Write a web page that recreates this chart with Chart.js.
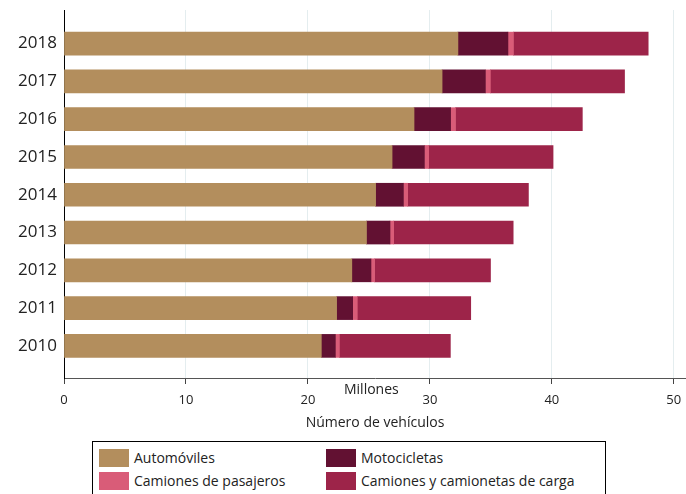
<!DOCTYPE html>
<html lang="es">
<head>
    <meta charset="UTF-8">
    <title>Número de vehículos</title>
    <script src="https://cdn.jsdelivr.net/npm/chart.js"></script>
    <style>
        body {
            margin: 0;
            font-family: "Open Sans", sans-serif;
            background: #fff;
        }
        .wrap {
            position: relative;
            width: 686px;
            height: 494px;
            overflow: hidden;
        }
        #legend {
            position: absolute;
            left: 92px;
            top: 441px;
            width: 514px;
            height: 60px;
            border: 1px solid #000;
            display: grid;
            grid-template-columns: 227px 1fr;
            grid-auto-rows: 18px;
            row-gap: 5px;
            padding: 7px 0 0 6px;
            box-sizing: border-box;
            font-size: 14px;
            color: #222;
        }
        .item {
            display: flex;
            align-items: center;
            height: 18px;
            line-height: 18px;
        }
        .sw {
            width: 30px;
            height: 18px;
            margin-right: 5px;
        }
    </style>
</head>
<body>
    <div class="wrap">
        <canvas id="chart" width="686" height="440"></canvas>
        <div id="legend"></div>
    </div>

    <script>
        const years = [2010, 2011, 2012, 2013, 2014, 2015, 2016, 2017, 2018];
        const automoviles = [21.1, 22.35, 23.6, 24.8, 25.55, 26.9, 28.7, 31.0, 32.3];
        const motocicletas = [1.15, 1.32, 1.57, 1.93, 2.28, 2.65, 3.0, 3.55, 4.1];
        const pasajeros = [0.33, 0.38, 0.3, 0.3, 0.35, 0.35, 0.4, 0.41, 0.45];
        const carga = [9.1, 9.3, 9.5, 9.8, 9.9, 10.2, 10.4, 11.0, 11.05];
        const xTicks = [0, 10, 20, 30, 40, 50];

        const textColor = "#222";

        const millonesLabel = {
            id: "millones",
            afterDraw(chart) {
                const ctx = chart.ctx;
                const x = chart.scales.x;
                ctx.save();
                ctx.font = "14px 'Open Sans'";
                ctx.fillStyle = textColor;
                ctx.textAlign = "center";
                ctx.textBaseline = "middle";
                ctx.fillText("Millones", x.getPixelForValue(25.2), x.top + 12.5);
                ctx.restore();
            }
        };

        const ctx = document.getElementById("chart").getContext("2d");
        const chart = new Chart(ctx, {
            type: "bar",
            data: {
                labels: years,
                datasets: [
                    { label: "Automóviles", data: automoviles, backgroundColor: "#B38E5D" },
                    { label: "Motocicletas", data: motocicletas, backgroundColor: "#621132" },
                    { label: "Camiones de pasajeros", data: pasajeros, backgroundColor: "#D95C78" },
                    { label: "Camiones y camionetas de carga", data: carga, backgroundColor: "#9D2449" }
                ]
            },
            options: {
                indexAxis: "y",
                responsive: false,
                animation: false,
                barThickness: 23,
                layout: { padding: { top: 10, left: 0, right: 0, bottom: 0 } },
                plugins: {
                    legend: { display: false },
                    tooltip: { enabled: false }
                },
                scales: {
                    x: {
                        stacked: true,
                        min: 0,
                        max: 51,
                        afterBuildTicks: s => { s.ticks = xTicks.map(v => ({ value: v })); },
                        afterFit: s => { s.height = 62; s.paddingLeft = 0; s.paddingRight = 0; },
                        grid: { color: "#e4edef", tickColor: "#444", tickLength: 6 },
                        border: { color: "#555", width: 1 },
                        ticks: {
                            color: textColor,
                            font: { family: "Open Sans", size: 13 },
                            padding: 8,
                            maxRotation: 0
                        },
                        title: {
                            display: true,
                            text: "Número de vehículos",
                            color: textColor,
                            font: { family: "Open Sans", size: 14 },
                            padding: { top: 4, bottom: 9 }
                        }
                    },
                    y: {
                        type: "linear",
                        stacked: true,
                        offset: false,
                        min: 2009.15,
                        max: 2018.89,
                        afterBuildTicks: s => { s.ticks = years.map(v => ({ value: v })); },
                        afterFit: s => { s.width = 64; s.paddingTop = 0; s.paddingBottom = 0; },
                        grid: { display: false, drawTicks: false },
                        border: { color: "#000", width: 1 },
                        ticks: {
                            color: textColor,
                            font: { family: "Open Sans", size: 17 },
                            padding: 7,
                            callback: v => String(v)
                        }
                    }
                }
            },
            plugins: [millonesLabel]
        });

        const legend = document.getElementById("legend");
        chart.data.datasets.forEach(ds => {
            legend.innerHTML += `<div class="item"><span class="sw" style="background:${ds.backgroundColor}"></span>${ds.label}</div>`;
        });
    </script>
</body>
</html>
